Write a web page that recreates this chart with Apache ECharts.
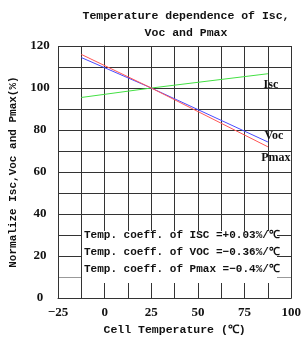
<!DOCTYPE html>
<html>
<head>
<meta charset="utf-8">
<script src="https://cdn.jsdelivr.net/npm/echarts@6/dist/echarts.min.js"></script>
<style>body{margin:0;background:#fff}</style>
</head>
<body>
<div id="main" style="width:304px;height:341px"></div>
<script type="text/javascript">
// values (temperature in C, normalized %)
var temps = [-12.5, 25, 87.5];
var iscVals = [95.5, 100, 106.8];
var vocVals = [114.5, 100, 74.3];
var pmaxVals = [116, 100, 72];
var xTickLabels = ['\u221225', '0', '25', '50', '75', '100'];
var yTickLabels = ['0', '20', '40', '60', '80', '100', '120'];
var noteLines = [
    'Temp. coeff. of ISC =+0.03%/\u2103',
    'Temp. coeff. of VOC =\u22120.36%/\u2103',
    'Temp. coeff. of Pmax =\u22120.4%/\u2103'
];

var monoFont = '"Liberation Mono", monospace';
var serifFont = '"Liberation Serif", serif';

function pairs(vals) {
    var out = [];
    for (var i = 0; i < temps.length; i++) out.push([temps[i], vals[i]]);
    return out;
}

var gridColors = [];
for (var k = 0; k <= 12; k++) gridColors.push(k === 1 ? '#999' : '#333');

var myChart = echarts.init(document.getElementById('main'));
var option = {
    animation: false,
    title: {
        text: 'Temperature dependence of Isc,\nVoc and Pmax',
        left: 181,
        top: 3,
        textAlign: 'center',
        textStyle: {fontFamily: monoFont, fontSize: 11.5, fontWeight: 'bold', color: '#111', lineHeight: 17}
    },
    grid: {left: 58, right: 10, top: 46, bottom: 37},
    xAxis: {
        type: 'value',
        min: -25, max: 100, interval: 12.5,
        name: 'Cell Temperature (\u2103)',
        nameLocation: 'middle',
        nameGap: 25,
        nameTextStyle: {fontFamily: monoFont, fontSize: 11.5, fontWeight: 'bold', color: '#111'},
        axisLine: {lineStyle: {color: '#333'}},
        axisTick: {show: false},
        axisLabel: {
            margin: 8,
            fontFamily: serifFont, fontSize: 13, fontWeight: 'bold', color: '#111',
            formatter: function (v) {
                if (v % 25 !== 0) return '';
                return xTickLabels[(v + 25) / 25];
            }
        },
        splitLine: {show: true, lineStyle: {color: '#333', width: 1}}
    },
    yAxis: {
        type: 'value',
        min: 0, max: 120, interval: 10,
        name: 'Normalize Isc,Voc and Pmax(%)',
        nameLocation: 'middle',
        nameGap: 39,
        nameTextStyle: {fontFamily: monoFont, fontSize: 11, fontWeight: 'bold', color: '#111'},
        axisLine: {show: true, lineStyle: {color: '#333'}},
        axisTick: {show: false},
        axisLabel: {
            margin: 18,
            align: 'center',
            fontFamily: serifFont, fontSize: 13, fontWeight: 'bold', color: '#111',
            formatter: function (v) {
                if (v % 20 !== 0) return '';
                return yTickLabels[v / 20];
            }
        },
        splitLine: {show: true, lineStyle: {color: gridColors, width: 1}}
    },
    graphic: [{
        type: 'rect',
        shape: {x: 82, y: 231, width: 195, height: 52},
        style: {fill: '#fff'},
        z: 10
    }, {
        type: 'text',
        x: 84, y: 227,
        style: {
            text: noteLines.join('\n'),
            font: 'bold 11px ' + monoFont,
            fill: '#111',
            lineHeight: 16.7
        },
        z: 11
    }],
    series: [{
        name: 'Isc', type: 'line', data: pairs(iscVals), showSymbol: false,
        lineStyle: {color: '#44e044', width: 1},
        endLabel: {show: true, formatter: 'Isc', distance: 0, align: 'center', offset: [3, 11],
            fontFamily: serifFont, fontSize: 12, fontWeight: 'bold', color: '#111'}
    }, {
        name: 'Voc', type: 'line', data: pairs(vocVals), showSymbol: false,
        lineStyle: {color: '#4a4aff', width: 1},
        endLabel: {show: true, formatter: 'Voc', distance: 0, align: 'center', offset: [6, -6],
            fontFamily: serifFont, fontSize: 12, fontWeight: 'bold', color: '#111'}
    }, {
        name: 'Pmax', type: 'line', data: pairs(pmaxVals), showSymbol: false,
        lineStyle: {color: '#ff5555', width: 1},
        endLabel: {show: true, formatter: 'Pmax', distance: 0, align: 'center', offset: [8, 11],
            fontFamily: serifFont, fontSize: 12, fontWeight: 'bold', color: '#111'}
    }]
};

if (option && typeof option === "object") {
    myChart.setOption(option, true);
}
</script>
</body>
</html>
